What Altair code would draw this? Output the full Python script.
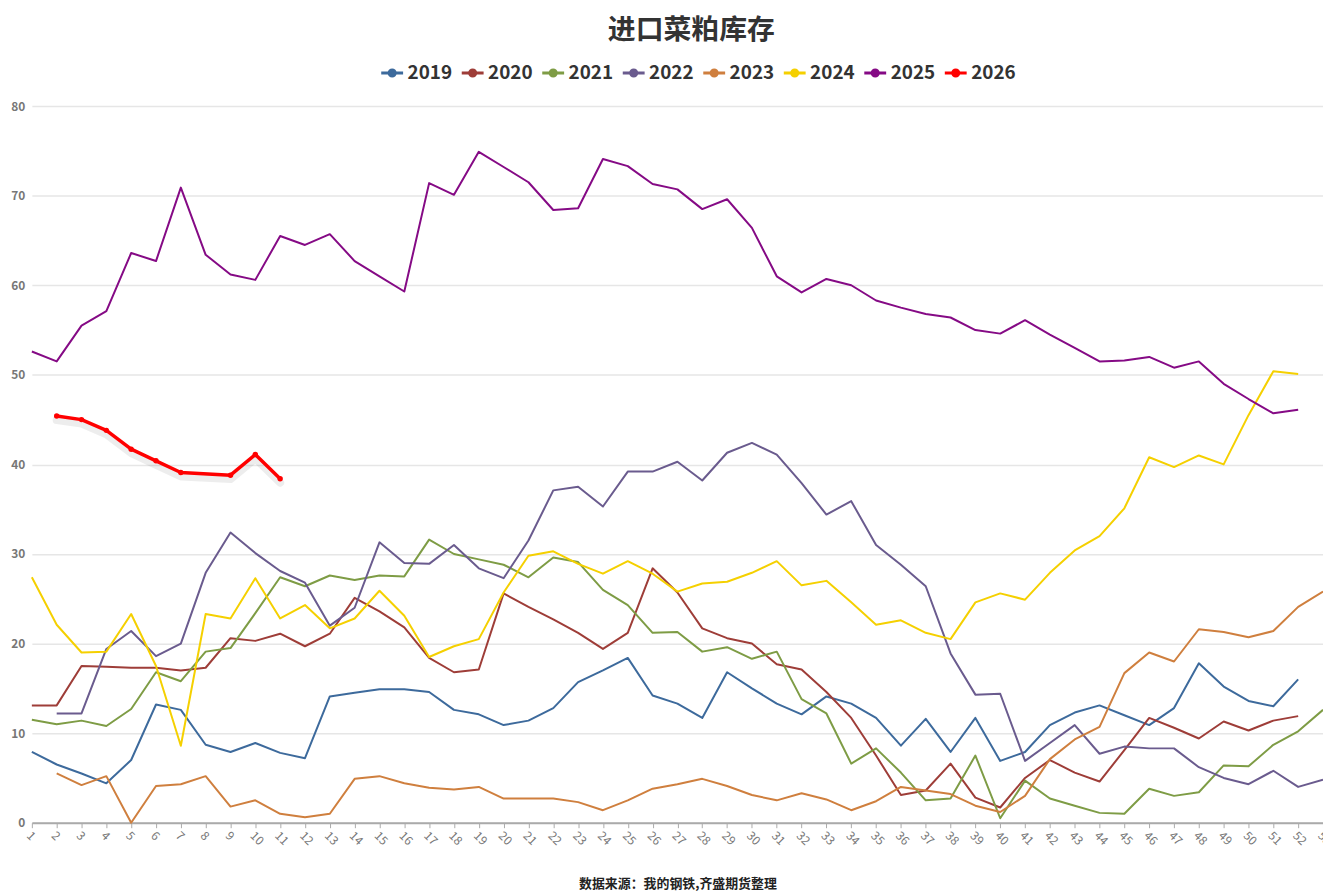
import altair as alt
import pandas as pd

weeks = list(range(1, 54))
years = ["2019", "2020", "2021", "2022", "2023", "2024", "2025", "2026"]
colors = ["#3d6a9c", "#9e3d38", "#7e9c45", "#6a5b8e", "#cf7f3e", "#f5d000", "#850a85", "#ff0000"]

s2019 = [7.9, 6.5, 5.5, 4.4, 7.0, 13.2, 12.6, 8.7, 7.9, 8.9, 7.8, 7.2, 14.1, 14.5, 14.9, 14.9, 14.6,
         12.6, 12.1, 10.9, 11.4, 12.8, 15.7, 17.0, 18.4, 14.2, 13.3, 11.7, 16.8, 15.0, 13.3, 12.1, 14.1,
         13.3, 11.7, 8.6, 11.6, 7.9, 11.7, 6.9, 7.9, 10.9, 12.3, 13.1, 12.0, 10.9, 12.8, 17.8, 15.2,
         13.6, 13.0, 16.0]
s2020 = [13.1, 13.1, 17.5, 17.4, 17.3, 17.3, 17.0, 17.3, 20.6, 20.3, 21.1, 19.7, 21.1, 25.1, 23.6, 21.8,
         18.4, 16.8, 17.1, 25.6, 24.1, 22.7, 21.2, 19.4, 21.2, 28.4, 25.7, 21.7, 20.6, 20.0, 17.7, 17.1,
         14.6, 11.7, 7.5, 3.1, 3.6, 6.6, 2.8, 1.7, 5.0, 7.0, 5.6, 4.6, 8.1, 11.7, 10.6, 9.4, 11.3, 10.3,
         11.4, 11.9]
s2021 = [11.5, 11.0, 11.4, 10.8, 12.7, 16.8, 15.8, 19.1, 19.5, 23.4, 27.4, 26.4, 27.6, 27.1, 27.6, 27.5,
         31.6, 30.0, 29.4, 28.8, 27.4, 29.6, 29.1, 26.0, 24.3, 21.2, 21.3, 19.1, 19.6, 18.3, 19.1, 13.8,
         12.2, 6.6, 8.3, 5.6, 2.5, 2.7, 7.5, 0.5, 4.7, 2.7, 1.9, 1.1, 1.0, 3.8, 3.0, 3.4, 6.4, 6.3, 8.7,
         10.2, 12.6]
s2022 = [None, 12.2, 12.2, 19.4, 21.4, 18.6, 20.0, 27.9, 32.4, 30.1, 28.1, 26.8, 22.0, 24.0, 31.3, 29.0,
         28.9, 31.0, 28.4, 27.3, 31.5, 37.1, 37.5, 35.3, 39.2, 39.2, 40.3, 38.2, 41.3, 42.4, 41.1, 37.9,
         34.4, 35.9, 31.0, 28.8, 26.4, 18.9, 14.3, 14.4, 6.9, 8.9, 10.9, 7.7, 8.5, 8.3, 8.3, 6.2, 5.0,
         4.3, 5.8, 4.0, 4.8]
s2023 = [None, 5.5, 4.2, 5.2, 0.0, 4.1, 4.3, 5.2, 1.8, 2.5, 1.0, 0.6, 1.0, 4.9, 5.2, 4.4, 3.9, 3.7, 4.0,
         2.7, 2.7, 2.7, 2.3, 1.4, 2.5, 3.8, 4.3, 4.9, 4.1, 3.1, 2.5, 3.3, 2.6, 1.4, 2.4, 4.0, 3.6, 3.2,
         1.9, 1.2, 3.0, 7.1, 9.3, 10.7, 16.7, 19.0, 18.0, 21.6, 21.3, 20.7, 21.4, 24.1, 25.8]
s2024 = [27.4, 22.1, 19.0, 19.1, 23.3, 17.5, 8.6, 23.3, 22.8, 27.3, 22.8, 24.3, 21.7, 22.8, 25.9, 23.1,
         18.5, 19.7, 20.5, 25.7, 29.8, 30.3, 28.9, 27.8, 29.2, 27.8, 25.8, 26.7, 26.9, 27.9, 29.2, 26.5,
         27.0, 24.6, 22.1, 22.6, 21.2, 20.5, 24.6, 25.6, 24.9, 27.9, 30.4, 32.0, 35.1, 40.8, 39.7, 41.0,
         40.0, 45.5, 50.4, 50.1]
s2025 = [52.6, 51.5, 55.5, 57.1, 63.6, 62.7, 70.9, 63.4, 61.2, 60.6, 65.5, 64.5, 65.7, 62.7, 61.0, 59.3,
         71.4, 70.1, 74.9, 73.2, 71.5, 68.4, 68.6, 74.1, 73.3, 71.3, 70.7, 68.5, 69.6, 66.4, 61.0, 59.2,
         60.7, 60.0, 58.3, 57.5, 56.8, 56.4, 55.0, 54.6, 56.1, 54.5, 53.0, 51.5, 51.6, 52.0, 50.8, 51.5,
         49.0, 47.3, 45.7, 46.1]
s2026 = [None, 45.4, 45.0, 43.8, 41.7, 40.4, 39.1, None, 38.8, 41.1, 38.4]

series = dict(zip(years, [s2019, s2020, s2021, s2022, s2023, s2024, s2025, s2026]))
y_ticks = [0, 10, 20, 30, 40, 50, 60, 70, 80]

title_text = "进口菜粕库存"
source_text = "数据来源：我的钢铁,齐盛期货整理"

rows = []
for yr, vals in series.items():
    for w, v in zip(weeks, vals):
        if v is not None:
            rows.append({"week": w, "year": yr, "value": v})
df = pd.DataFrame(rows)
df26 = df[df["year"] == "2026"]

FONT = "Noto Sans CJK SC"
legend_path = "M-1,0L1,0M0.28,0A0.28,0.28 0 1,1 -0.28,0A0.28,0.28 0 1,1 0.28,0"

x_enc = alt.X(
    "week:Q",
    scale=alt.Scale(domain=[1, 53], nice=False, zero=False),
    axis=alt.Axis(
        values=weeks, labelAngle=45, grid=False, domainColor="#aaaaaa", domainWidth=2,
        tickColor="#aaaaaa", tickSize=5, labelColor="#777777", labelFontSize=12,
        labelFont=FONT, labelPadding=2, labelOverlap=False,
        title=source_text, titleFont=FONT, titleFontSize=13, titleFontWeight="bold",
        titleColor="#222222", titlePadding=31,
    ),
)
y_enc = alt.Y(
    "value:Q",
    scale=alt.Scale(domain=[0, 80], nice=False),
    axis=alt.Axis(
        values=y_ticks, domain=False, ticks=False, labelPadding=7, gridColor="#e6e6e6",
        gridWidth=1.5, labelColor="#777777", labelFontSize=12, labelFontWeight="bold",
        labelFont=FONT, title=None,
    ),
)

shadow = alt.Chart(df26).mark_line(
    strokeWidth=8, color="#000000", opacity=0.07, yOffset=4, strokeJoin="round", strokeCap="round"
).encode(x=x_enc, y=y_enc)

lines = alt.Chart(df).mark_line(strokeJoin="round").encode(
    x=x_enc,
    y=y_enc,
    color=alt.Color(
        "year:N",
        scale=alt.Scale(domain=years, range=colors),
        legend=alt.Legend(
            orient="none", legendX=350, legendY=-46, direction="horizontal", title=None,
            symbolType=legend_path, symbolSize=484, symbolStrokeWidth=3,
            labelFontSize=19, labelFontWeight="bold", labelColor="#333333", labelFont=FONT,
            labelOffset=3, columnPadding=3,
        ),
    ),
    strokeWidth=alt.condition(alt.datum.year == "2026", alt.value(3.5), alt.value(2)),
    order="week:Q",
)

points = alt.Chart(df26).mark_point(filled=True, size=30, color="#ff0000", opacity=1).encode(
    x=x_enc, y=y_enc
)

chart = alt.layer(shadow, lines, points).properties(
    width=1299,
    height=721,
    autosize=alt.AutoSizeParams(type="none"),
    padding={"left": 24, "top": 96, "right": 0, "bottom": 67},
    title=alt.TitleParams(
        title_text, font=FONT, fontSize=28, fontWeight="bold", color="#333333",
        anchor="middle", dx=14, offset=16,
    ),
).configure_view(stroke=None)

chart.save("out.html", embed_options={"renderer": "svg", "actions": False})
